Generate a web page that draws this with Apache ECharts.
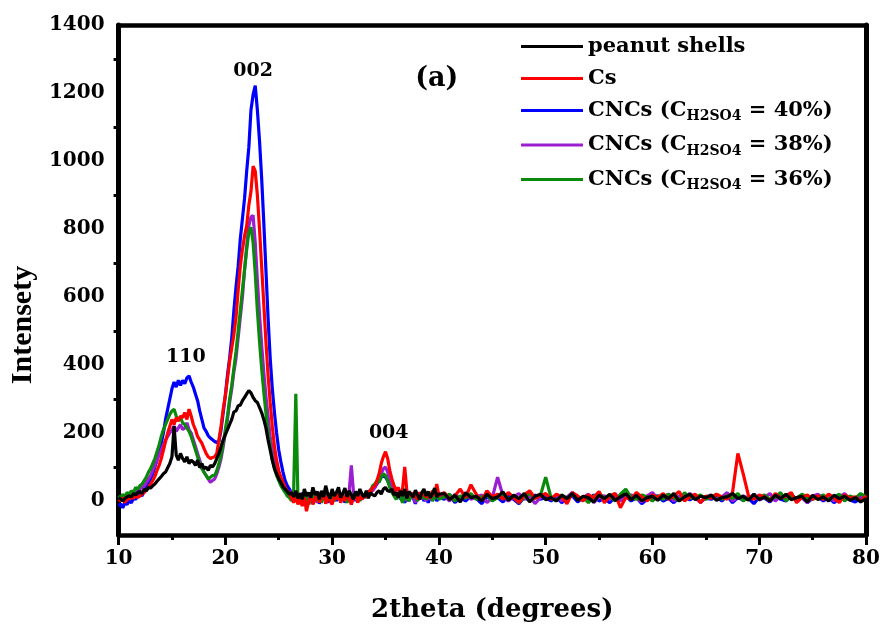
<!DOCTYPE html>
<html>
<head>
<meta charset="utf-8">
<script src="https://cdn.jsdelivr.net/npm/echarts@6/dist/echarts.min.js"></script>
<style>
html,body{margin:0;padding:0;background:#fff;}
#chart{width:883px;height:628px;}
</style>
</head>
<body>
<div id="chart"></div>
<script>
// 2theta positions (degrees)
const xDeg = [
10,10.2,10.4,10.6,10.8, 11,11.2,11.4,11.6,11.8, 12,12.2,12.4,12.6,12.8, 13,13.2,13.4,13.6,13.8,
14,14.2,14.4,14.6,14.8, 15,15.2,15.4,15.6,15.8, 16,16.2,16.4,16.6,16.8, 17,17.2,17.4,17.6,17.8,
18,18.2,18.4,18.6,18.8, 19,19.2,19.4,19.6,19.8, 20,20.2,20.4,20.6,20.8, 21,21.2,21.4,21.6,21.8,
22,22.2,22.4,22.6,22.8, 23,23.2,23.4,23.6,23.8, 24,24.2,24.4,24.6,24.8, 25,25.2,25.4,25.6,25.8,
26,26.2,26.4,26.6,26.8, 27,27.2,27.4,27.6,27.8, 28,28.2,28.4,28.6,28.8, 29,29.2,29.4,29.6,29.8,
30,30.2,30.4,30.6,30.8, 31,31.2,31.4,31.6,31.8, 32,32.2,32.4,32.6,32.8, 33,33.2,33.4,33.6,33.8,
34,34.2,34.4,34.6,34.8, 35,35.2,35.4,35.6,35.8, 36,36.2,36.4,36.6,36.8, 37,37.2,37.4,37.6,37.8,
38,38.2,38.4,38.6,38.8, 39,39.2,39.4,39.6,39.8, 40,
40.5,41,41.5,42,42.5,43,43.5,44,44.5,45, 45.5,46,46.5,47,47.5,48,48.5,49,49.5,50,
50.5,51,51.5,52,52.5,53,53.5,54,54.5,55, 55.5,56,56.5,57,57.5,58,58.5,59,59.5,60,
60.5,61,61.5,62,62.5,63,63.5,64,64.5,65, 65.5,66,66.5,67,67.5,68,68.5,69,69.5,70,
70.5,71,71.5,72,72.5,73,73.5,74,74.5,75, 75.5,76,76.5,77,77.5,78,78.5,79,79.5,80
];

const peanutShells = [
10,5,0,8,12, 15,12,22,18,25, 28,22,35,30,40, 38,45,50,58,65,
72,80,85,98,110, 130,220,135,120,140, 125,115,130,110,120, 115,105,120,98,110,
95,100,90,105,100, 110,125,140,160,180, 195,210,225,240,262, 265,280,282,295,305,
315,325,318,305,295, 290,275,260,240,215, 180,150,120,95,80, 65,55,42,35,28,
20,25,12,30,8, 22,5,35,15,25, 10,40,18,28,5, 30,12,45,20,8,
35,15,25,40,10, 22,38,12,30,18, 5,28,15,35,20, 12,30,8,25,18,
15,25,30,20,35, 40,30,28,35,18, 25,10,30,15,35, 8,28,20,12,32,
18,5,25,35,15, 28,10,22,38,12, 20,
22,4,17,-3,24,10,14,0,20,7, 12,27,2,17,7,22,-3,14,20,4,
10,0,17,7,22,2,14,10,-3,17, 7,20,2,12,22,4,17,0,10,14,
2,17,7,22,0,12,20,4,14,10, 17,2,10,12,22,7,14,2,20,4,
12,0,17,7,20,4,10,14,-3,17, 4,12,0,17,7,14,2,10,-3,7
];

const cs = [
5,0,10,-5,8, 5,12,8,15,10, 15,20,25,32,40, 50,60,72,90,105,
125,150,175,200,220, 240,225,245,235,250, 245,260,240,270,250, 225,210,190,180,170,
155,140,130,125,128, 130,140,180,220,270, 310,360,410,450,490, 540,620,690,740,780,
810,870,910,985,970, 900,800,690,580,470, 370,290,220,160,120, 90,70,55,40,30,
20,10,-5,15,-10, 5,-15,10,-30,0, 15,-10,5,20,-5, 10,25,-8,15,0,
-10,12,5,20,-5, 15,0,25,8,-10, 10,20,-5,15,5, 20,10,30,25,40,
45,60,80,110,130, 145,125,90,65,45, 30,40,20,35,100, 30,15,25,10,20,
5,25,15,30,10, 20,8,30,15,50, 15,
25,5,15,35,10,48,20,0,30,12, 20,5,25,10,-5,18,30,8,15,22,
5,20,12,-8,25,15,0,18,10,28, -5,15,22,-20,10,5,25,12,0,18,
10,22,5,15,28,0,12,20,-5,15, 8,20,12,5,25,140,80,15,5,18,
12,0,22,8,15,25,-5,10,18,5, 15,5,20,10,-5,18,8,12,0,15
];

const cncs40 = [
-15,-8,-20,-5,-10, 0,-5,8,5,15, 20,15,30,40,50, 65,80,100,120,145,
170,200,240,270,300, 330,350,335,355,340, 355,345,362,368,350, 335,315,295,265,240,
215,205,192,185,180, 175,172,175,210,260, 310,370,420,480,560, 630,690,770,830,890,
970,1040,1150,1195,1222, 1150,1060,950,820,680, 540,420,330,260,200, 150,115,85,60,45,
35,25,15,10,5, 0,10,-10,5,15, -5,10,0,20,-8, 12,5,25,-5,10,
8,20,0,15,5, 18,-5,10,25,8, 15,0,20,5,12, 10,22,15,30,35,
40,50,60,70,75, 70,60,45,30,20, 10,25,5,15,-5, 12,0,20,8,-8,
15,5,22,0,10, -5,12,8,20,0, 10,
5,18,-5,10,0,15,8,-8,12,3, 10,-3,15,5,-8,12,0,18,5,10,
0,12,-5,8,15,-3,10,5,18,0, 8,-5,12,3,15,0,10,-8,5,12,
15,0,8,-5,10,18,3,12,-3,8, 5,12,0,15,-5,10,3,8,-8,12,
8,-3,15,5,0,20,3,10,-5,8, 12,0,10,-5,8,15,3,-3,10,5
];

const cncs38 = [
10,5,15,8,12, 18,12,22,25,30, 35,40,45,55,65, 75,90,105,120,135,
150,165,180,190,200, 210,220,205,215,225, 210,215,230,210,200, 180,160,140,120,100,
85,75,65,55,60, 65,80,100,125,160, 200,240,290,330,380, 420,480,540,600,680,
750,810,835,840,760, 650,550,460,380,310, 250,190,150,115,90, 70,55,40,30,20,
15,30,5,20,0, 10,25,0,15,-10, 20,5,15,-5,25, 8,18,0,12,22,
5,15,25,10,0, 20,8,15,30,105, 25,10,0,18,5, 15,25,20,35,30,
40,55,65,80,95, 100,85,60,45,30, 20,10,25,5,15, 0,20,8,15,-5,
12,25,5,18,0, 15,5,22,10,25, 8,
15,0,20,8,25,5,12,18,-5,10, 70,15,0,12,22,5,15,-8,10,20,
8,18,0,12,25,5,10,20,-5,12, 15,5,22,0,10,18,8,-3,15,25,
5,12,20,0,15,8,22,10,-5,12, 18,5,12,25,0,10,15,8,20,3,
10,22,0,15,8,18,5,12,-5,15, 20,8,15,0,12,22,5,10,15,8
];

const cncs36 = [
15,8,20,12,25, 20,30,25,40,35, 45,50,60,70,85, 95,110,125,145,165,
190,210,225,240,255, 265,270,250,240,245, 230,225,215,205,190, 170,150,130,110,95,
85,75,65,70,75, 75,90,110,135,170, 210,250,300,340,390, 440,500,560,620,680,
740,790,805,760,670, 560,470,390,320,260, 200,160,120,95,75, 60,45,35,25,15,
10,0,30,315,5, 15,-5,20,8,-10, 10,25,0,12,18, -5,15,8,20,5,
12,0,18,8,22, 5,15,-5,10,20, 8,25,12,0,15, 20,10,25,30,45,
50,60,55,70,80, 75,60,40,25,15, 5,20,10,-5,15, 8,0,18,10,22,
0,15,8,20,5, 12,25,0,10,18, 5,
12,20,0,15,8,22,5,12,18,0, 10,20,5,15,-5,12,22,8,15,70,
10,0,18,8,20,5,12,-5,15,22, 8,15,0,20,35,10,5,18,12,0,
15,5,20,10,0,25,8,12,18,5, 12,20,5,15,8,22,0,10,15,8,
18,5,12,25,0,15,8,20,10,5, 10,18,5,12,20,0,15,8,22,12
];

const seriesNames = ['peanut shells', 'Cs', 'CNCs (CH2SO4 = 40%)', 'CNCs (CH2SO4 = 38%)', 'CNCs (CH2SO4 = 36%)'];
const seriesColors = ['#000000', '#ff0000', '#0000ff', '#9b1fd0', '#0a8a0a'];
const seriesValues = [peanutShells, cs, cncs40, cncs38, cncs36];
const drawOrder = [2, 3, 4, 1, 0];

const xTicks = [10, 20, 30, 40, 50, 60, 70, 80];
const yTicks = [0, 200, 400, 600, 800, 1000, 1200, 1400];

const noteText = ['110', '002', '004', '(a)'];
const noteX = [16.3, 22.6, 35.3, 39.8];
const noteY = [424, 1265, 200, 1240];

seriesValues.forEach((arr, i) => {
  if (arr.length !== xDeg.length) throw new Error(seriesNames[i] + ' length ' + arr.length + ' vs ' + xDeg.length);
});

const chart = echarts.init(document.getElementById('chart'), null, {renderer: 'canvas'});
const serifBold = {fontFamily: 'DejaVu Serif', fontWeight: 'bold', color: '#000'};

function legendFmt(name) {
  const m = name.match(/^CNCs \(CH2SO4 = (\d+%)\)$/);
  if (m) return '{n|CNCs (C}{s|H2SO4}{n| = ' + m[1] + ')}';
  return '{n|' + name + '}';
}

const lineSeries = drawOrder.map(i => ({
  name: seriesNames[i],
  type: 'line',
  data: xDeg.map((x, k) => [x, seriesValues[i][k]]),
  showSymbol: false,
  symbol: 'none',
  color: seriesColors[i],
  itemStyle: {color: seriesColors[i]},
  lineStyle: {color: seriesColors[i], width: 3.2},
  silent: true,
  animation: false
}));

const noteSeries = {
  name: 'notes',
  type: 'scatter',
  symbolSize: 0,
  silent: true,
  z: 10,
  data: noteText.map((t, i) => ({
    value: [noteX[i], noteY[i]],
    label: {
      show: true,
      position: 'inside',
      formatter: t,
      fontFamily: 'DejaVu Serif',
      fontWeight: 'bold',
      color: '#000',
      textBorderWidth: 0,
      textBorderColor: 'transparent',
      opacity: 1,
      fontSize: t === '(a)' ? 27 : 19
    }
  }))
};

chart.setOption({
  animation: false,
  backgroundColor: '#fff',
  grid: {left: 115, right: 17, top: 25, bottom: 91, containLabel: false},
  legend: {
    data: seriesNames,
    orient: 'vertical',
    left: 516,
    top: 31,
    icon: 'rect',
    itemWidth: 62,
    itemHeight: 3,
    itemGap: 11,
    selectedMode: false,
    formatter: legendFmt,
    textStyle: {
      fontFamily: 'DejaVu Serif', fontWeight: 'bold', fontSize: 21, color: '#000',
      rich: {
        n: {fontFamily: 'DejaVu Serif', fontWeight: 'bold', fontSize: 21, color: '#000'},
        s: {fontFamily: 'DejaVu Serif', fontWeight: 'bold', fontSize: 14, color: '#000', padding: [12, 0, 0, 0]}
      }
    }
  },
  xAxis: [{
    type: 'value', min: 10, max: 80, interval: 10, position: 'bottom',
    name: '2theta (degrees)', nameLocation: 'middle', nameGap: 62,
    nameTextStyle: Object.assign({fontSize: 26}, serifBold),
    axisLine: {show: true, onZero: false, lineStyle: {color: '#000', width: 4.5}},
    axisTick: {show: true, inside: false, length: 10, lineStyle: {color: '#000', width: 3}},
    minorTick: {show: true, splitNumber: 2, length: 5, lineStyle: {color: '#000', width: 3}},
    axisLabel: Object.assign({fontSize: 20, margin: 14, formatter: v => xTicks.includes(v) ? String(v) : ''}, serifBold),
    splitLine: {show: false}, minorSplitLine: {show: false}
  }, {
    type: 'value', min: 10, max: 80, position: 'top',
    axisLine: {show: true, onZero: false, lineStyle: {color: '#000', width: 4.5}},
    axisTick: {show: false}, axisLabel: {show: false}, splitLine: {show: false}
  }],
  yAxis: [{
    type: 'value', min: -100, max: 1400, splitNumber: 7, minInterval: 200, maxInterval: 200, position: 'left',
    name: 'Intensety', nameLocation: 'middle', nameGap: 78, nameRotate: 90,
    nameTextStyle: {fontFamily: 'Liberation Serif', fontWeight: 'bold', fontSize: 30, color: '#000', padding: [0, 90, 0, 0]},
    axisLine: {show: true, onZero: false, lineStyle: {color: '#000', width: 5}},
    axisTick: {show: false},
    minorTick: {show: true, splitNumber: 2, length: 5, lineStyle: {color: '#000', width: 3}},
    axisLabel: Object.assign({fontSize: 20, margin: 14, formatter: v => yTicks.includes(v) ? String(v) : ''}, serifBold),
    splitLine: {show: false}, minorSplitLine: {show: false}
  }, {
    type: 'value', min: -100, max: 1400, position: 'right',
    axisLine: {show: true, onZero: false, lineStyle: {color: '#000', width: 5}},
    axisTick: {show: false}, axisLabel: {show: false}, splitLine: {show: false}
  }],
  series: lineSeries.concat([noteSeries])
});
</script>
</body>
</html>
